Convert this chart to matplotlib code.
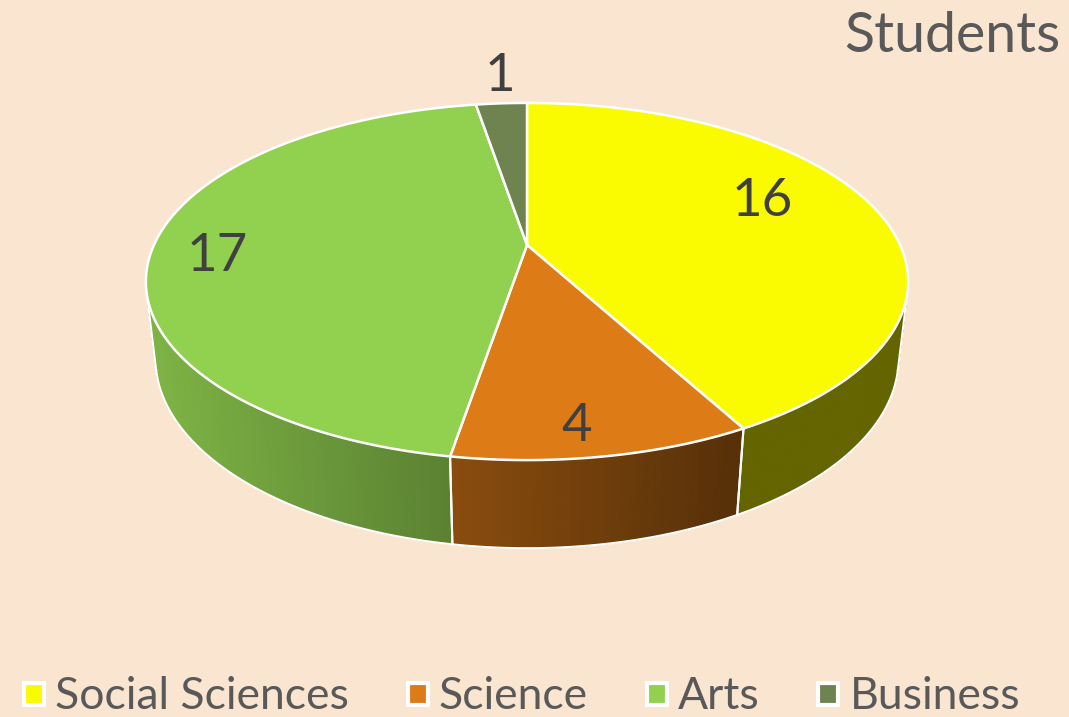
import numpy as np
import matplotlib.pyplot as plt
from matplotlib.patches import Polygon, Rectangle
from matplotlib.colors import to_rgb

categories = ["Social Sciences", "Science", "Arts", "Business"]
students = [16, 4, 17, 1]
colors = ["#FAFA00", "#DD7B16", "#92D050", "#6E8350"]
title = "Students"

plt.rcParams['font.family'] = ['Lato', 'DejaVu Sans']

BG = '#F9E5D0'
# camera for the tilted disc, everything in pixel units
CX, CY = 527, 245
ELEV = np.radians(27.3)
S, C = np.sin(ELEV), np.cos(ELEV)
D = 4.345
F = 1621
H = 0.234
# label placement: (angle shift from slice middle, radius)
label_dt = [-9.8, 2.1, -2.8, 0.6]
label_r = [0.731, 0.861, 0.825, 1.278]


def proj(x, y, z=0.0):
    up = y * S + z * C
    depth = D + y * C - z * S
    return CX + F * x / depth, CY - F * up / depth


def rim(t, r=1.0, z=0.0):
    t = np.radians(t)
    return proj(r * np.sin(t), r * np.cos(t), z)


def shade(col, x):
    k = np.clip(0.56 - 0.0008 * (x - CX), 0.4, 0.9)
    return tuple(np.array(to_rgb(col)) * k)


fig = plt.figure(figsize=(10.69, 7.17), dpi=100, facecolor=BG)
ax = fig.add_axes([0, 0, 1, 1])
ax.set_xlim(0, 1069)
ax.set_ylim(717, 0)
ax.axis('off')

total = sum(students)
cum = np.cumsum([0] + students) / total * 360
starts, ends = cum[:-1], cum[1:]

# visible part of the side wall
lim = np.degrees(np.arccos(-1 / (D * C)))
vis_lo, vis_hi = lim, 360 - lim

# side walls
for a0, a1, col in zip(starts, ends, colors):
    lo, hi = max(a0, vis_lo), min(a1, vis_hi)
    if hi <= lo:
        continue
    t = np.linspace(lo, hi, int((hi - lo) * 2) + 2)
    tx, ty = rim(t)
    bx, by = rim(t, z=-H)
    for j in range(len(t) - 1):
        pts = [(tx[j], ty[j]), (tx[j + 1], ty[j + 1]),
               (bx[j + 1], by[j + 1]), (bx[j], by[j])]
        c = shade(col, (tx[j] + tx[j + 1]) / 2)
        ax.add_patch(Polygon(pts, closed=True, fc=c, ec=c, lw=0.8, zorder=1))
    ax.plot(bx, by, color='white', lw=1.5, zorder=2)
    for a in (lo, hi):
        x0, y0 = rim(a)
        x1, y1 = rim(a, z=-H)
        ax.plot([x0, x1], [y0, y1], color='white', lw=1.5, zorder=2)

# top faces
for a0, a1, col in zip(starts, ends, colors):
    t = np.linspace(a0, a1, int((a1 - a0) * 2) + 2)
    tx, ty = rim(t)
    pts = [(CX, CY)] + list(zip(tx, ty))
    ax.add_patch(Polygon(pts, closed=True, fc=col, ec='white', lw=1.8,
                         joinstyle='round', zorder=3))

# data labels, anchored at the middle of the digits
lab_fs = 38
cap = lab_fs * 100 / 72 * 0.72
for a0, a1, v, dt, r in zip(starts, ends, students, label_dt, label_r):
    lx, ly = rim((a0 + a1) / 2 + dt, r=r)
    ax.text(lx, ly + cap / 2, str(v), ha='center', va='baseline',
            fontsize=lab_fs, color='#404040', zorder=5)

ax.text(1060, 52, title, ha='right', va='baseline', fontsize=40,
        color='#595959')

# legend spread over the same width as the original
renderer = fig.canvas.get_renderer()
ly = 694
leg_fs = 32
items = []
for name in categories:
    t = ax.text(0, ly + 15, name, ha='left', va='baseline', fontsize=leg_fs,
                color='#595959')
    items.append((t, t.get_window_extent(renderer).width))
x_start, x_end, pad = 22, 1020, 33
gap = (x_end - x_start - sum(w for _, w in items) - pad * len(items)) / (len(items) - 1)
x = x_start
for (t, w), col in zip(items, colors):
    ax.add_patch(Rectangle((x + 2, ly - 11), 20, 22, fc=col, ec='white',
                           lw=3, zorder=5))
    t.set_x(x + pad)
    x = x + pad + w + gap

fig.savefig('out.png', dpi=100, facecolor=BG)
